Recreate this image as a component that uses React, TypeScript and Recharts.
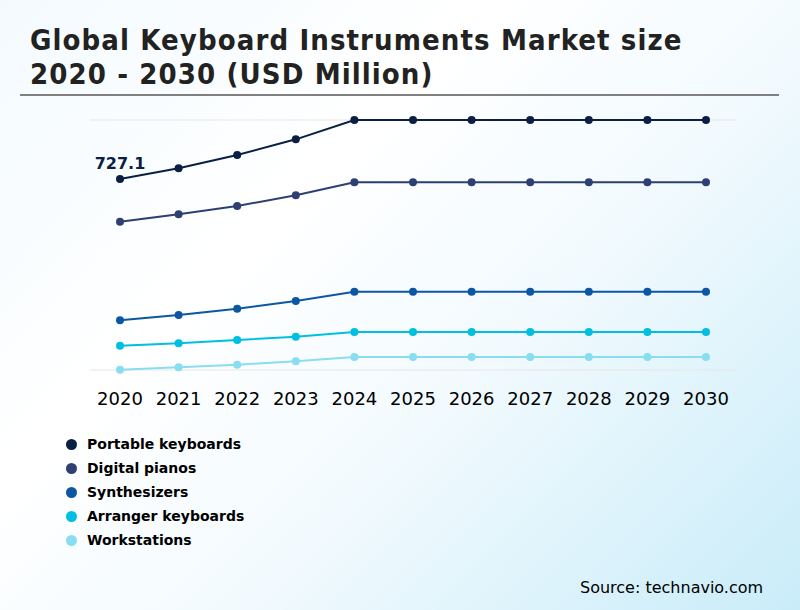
import { LineChart, Line, XAxis, YAxis, CartesianGrid, LabelList } from 'recharts';

const years = ['2020', '2021', '2022', '2023', '2024', '2025', '2026', '2027', '2028', '2029', '2030'];
const portable = [727.1, 759, 799, 846, 904, 904, 904, 904, 904, 904, 904];
const digital = [599, 621, 646, 678, 717, 717, 717, 717, 717, 717, 717];
const synth = [303, 319, 338, 361, 389, 389, 389, 389, 389, 389, 389];
const arranger = [227, 234, 244, 254, 268, 268, 268, 268, 268, 268, 268];
const workstations = [155, 162, 170, 180, 193, 193, 193, 193, 193, 193, 193];
const yTicks = [154, 404, 654, 904];

const SERIES = [
  { key: 'portable', name: 'Portable keyboards', color: '#0b1f45' },
  { key: 'digital', name: 'Digital pianos', color: '#2e3f72' },
  { key: 'synth', name: 'Synthesizers', color: '#0b57a4' },
  { key: 'arranger', name: 'Arranger keyboards', color: '#00bfe0' },
  { key: 'workstations', name: 'Workstations', color: '#88def0' },
];

const data = years.map((year, i) => ({
  year,
  portable: portable[i],
  digital: digital[i],
  synth: synth[i],
  arranger: arranger[i],
  workstations: workstations[i],
}));

const FONT = "'DejaVu Sans', sans-serif";

function FirstLabel(props: any) {
  const { x, y, value, index } = props;
  if (index !== 0) return null;
  return (
    <text x={x} y={y - 10} textAnchor="middle" fontFamily={FONT} fontWeight="bold" fontSize={16} fill="#0b1f45">
      {value}
    </text>
  );
}

export default function App() {
  return (
    <div
      style={{
        position: 'absolute', left: 0, top: 0, width: 800, height: 610, overflow: 'hidden',
        background: 'linear-gradient(135deg, #f3fafe 0%, #ffffff 35%, #f2fafe 60%, #c9ecf9 100%)',
        fontFamily: FONT,
      }}
    >
      <div
        style={{
          position: 'absolute', left: 30, top: 23, fontSize: 29, fontWeight: 'bold', lineHeight: '34px',
          letterSpacing: 1.1, color: '#222',
          fontFamily: "'DejaVu Sans Condensed', 'DejaVu Sans', sans-serif", fontStretch: 'condensed',
        }}
      >
        <div>Global Keyboard Instruments Market size</div>
        <div>2020 - 2030 (USD Million)</div>
      </div>
      <div style={{ position: 'absolute', left: 20, top: 94, width: 759, height: 2, background: '#808080' }} />

      <div style={{ position: 'absolute', left: 0, top: 0 }}>
        <LineChart width={800} height={420} data={data} margin={{ top: 120, right: 64, left: 90, bottom: 20 }}>
          <CartesianGrid horizontal vertical={false} stroke="#e6e6e6" />
          <XAxis
            dataKey="year"
            height={30}
            padding={{ left: 30, right: 30 }}
            axisLine={false}
            tickLine={false}
            tickSize={0}
            tickMargin={22}
            interval={0}
            tick={{ fontSize: 18, fill: '#000', fontFamily: FONT }}
          />
          <YAxis width={0} domain={[154, 904]} ticks={yTicks} tick={false} axisLine={false} tickLine={false} />
          {SERIES.map((s) => (
            <Line
              key={s.key}
              dataKey={s.key}
              name={s.name}
              stroke={s.color}
              strokeWidth={2}
              dot={{ r: 4, fill: s.color, stroke: s.color, strokeWidth: 0 }}
              isAnimationActive={false}
            >
              {s.key === 'portable' && <LabelList dataKey="portable" content={<FirstLabel />} />}
            </Line>
          ))}
        </LineChart>
      </div>

      <div style={{ position: 'absolute', left: 66, top: 432 }}>
        {SERIES.map((s) => (
          <div key={s.key} style={{ display: 'flex', alignItems: 'center', height: 24 }}>
            <span style={{ width: 11, height: 11, borderRadius: '50%', background: s.color, marginRight: 10 }} />
            <span style={{ fontSize: 14, fontWeight: 'bold', color: '#000' }}>{s.name}</span>
          </div>
        ))}
      </div>

      <div style={{ position: 'absolute', left: 580, top: 578, fontSize: 16, color: '#000' }}>
        Source: technavio.com
      </div>
    </div>
  );
}
